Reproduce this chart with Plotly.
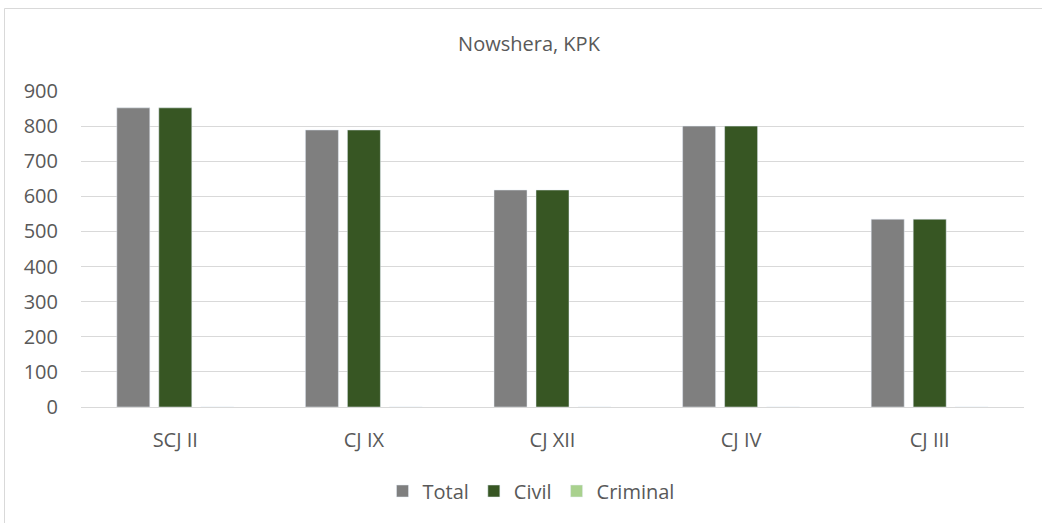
import plotly.graph_objects as go

# Court-wise case counts for Nowshera, KPK
courts = ["SCJ II", "CJ IX", "CJ XII", "CJ IV", "CJ III"]
total = [852, 789, 618, 800, 535]
civil = [852, 789, 618, 800, 535]
criminal = [0, 0, 0, 0, 0]

y_ticks = [0, 100, 200, 300, 400, 500, 600, 700, 800, 900]

TEXT = "#595959"
GRID = "#d9d9d9"
FONT = "Open Sans"

W, H = 1042, 523
ML, MR, MT, MB = 81, 18, 91, 116
pw = W - ML - MR
ph = H - MT - MB

fig = go.Figure()
fig.add_trace(go.Bar(name="Total", x=courts, y=total, marker_color="#7f7f7f"))
fig.add_trace(go.Bar(name="Civil", x=courts, y=civil, marker_color="#375623"))
fig.add_trace(go.Bar(name="Criminal", x=courts, y=criminal, marker_color="#a9d18e"))

# outer chart frame (top and left edges visible)
x0 = (4.5 - ML) / pw
y0 = (H - MB - 8.5) / ph
fig.add_shape(type="line", xref="paper", yref="paper", x0=x0, x1=1.1, y0=y0, y1=y0,
              line=dict(color=GRID, width=1))
fig.add_shape(type="line", xref="paper", yref="paper", x0=x0, x1=x0, y0=y0, y1=-0.5,
              line=dict(color=GRID, width=1))

fig.update_layout(
    width=W, height=H,
    margin=dict(l=ML, r=MR, t=MT, b=MB),
    paper_bgcolor="white", plot_bgcolor="white",
    barmode="group", bargap=0.332, bargroupgap=0.214,
    font=dict(family=FONT, color=TEXT, size=20),
    title=dict(text="Nowshera, KPK", x=529 / W, xanchor="center",
               y=1 - 44 / H, yanchor="middle",
               font=dict(size=20, color=TEXT, family=FONT)),
    legend=dict(orientation="h", x=(531 - ML) / pw, xanchor="center",
                y=-(491 - (H - MB)) / ph, yanchor="middle",
                font=dict(size=20, color=TEXT), itemwidth=30,
                traceorder="normal"),
    showlegend=True,
)
fig.update_yaxes(range=[0, 900], tickvals=y_ticks, showgrid=True, gridcolor=GRID,
                 gridwidth=1, zeroline=False, showline=False, ticks="",
                 tickfont=dict(size=20, color=TEXT), ticklabelstandoff=22)
fig.update_xaxes(showline=True, linecolor=GRID, linewidth=1, ticks="",
                 tickfont=dict(size=20, color=TEXT), ticklabelstandoff=15)

fig.write_html("out.html")
